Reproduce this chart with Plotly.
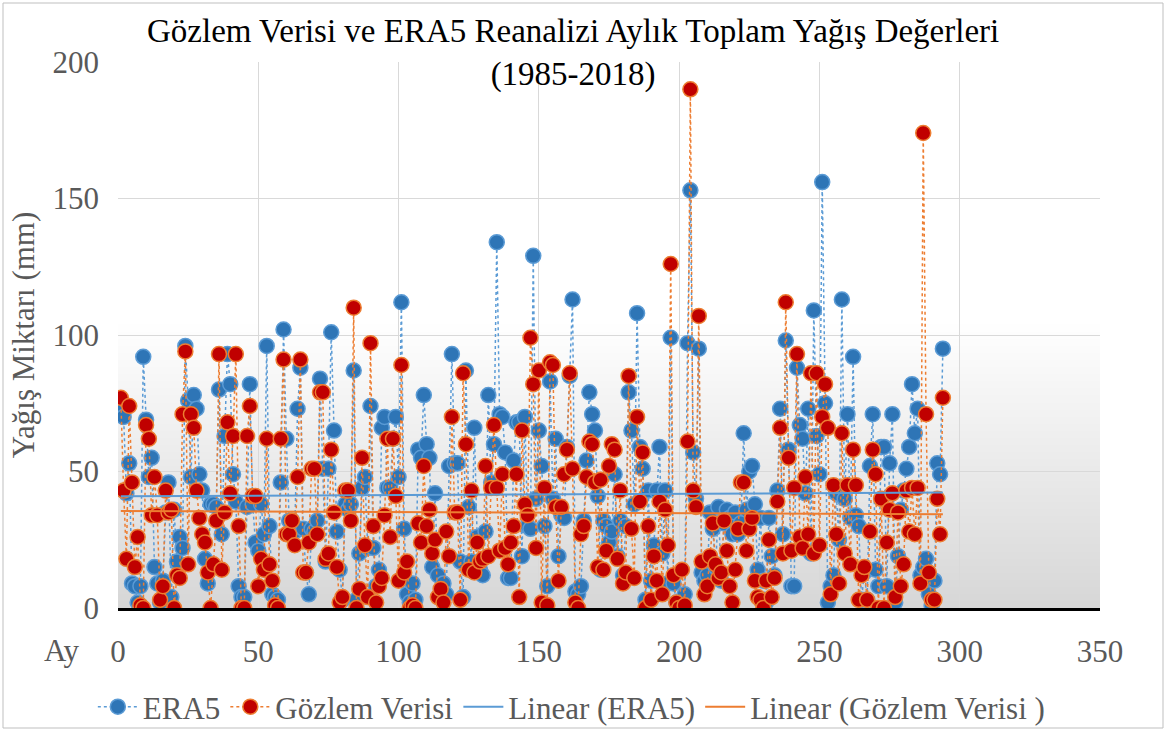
import numpy as np
import plotly.graph_objects as go

# ---------------- data ----------------
era5 = [
    73, 70, 42, 53, 9, 8, 2, 8, 92, 69, 48, 55, 15, 9, 2, 10, 35, 46, 4, 36, 17, 26, 22, 96,
    76, 48, 78, 73, 49, 43, 18, 9, 38, 38, 37, 80, 27, 63, 93, 82, 49, 39, 8, 4, 4, 37, 82, 38,
    24, 21, 38, 27, 96, 30, 5, 4, 3, 46, 102, 62, 32, 32, 28, 73, 88, 29, 13, 5, 29, 28, 32, 84,
    51, 17, 51, 101, 65, 28, 14, 3, 38, 36, 38, 87, 3, 20, 44, 48, 22, 74, 22, 8, 14, 66, 70, 44,
    44, 62, 70, 48, 112, 29, 5, 2, 9, 3, 58, 55, 78, 60, 55, 15, 42, 12, 4, 9, 5, 52, 93, 53,
    53, 17, 4, 87, 37, 17, 66, 26, 14, 12, 28, 78, 46, 60, 134, 71, 70, 57, 11, 11, 54, 68, 68, 19, 70, 30, 29, 129,
    40, 65, 52, 30, 8, 83, 40, 62, 19, 34, 33, 59, 85, 113, 6, 5, 8, 32, 54, 79, 71, 65, 41, 14,
    32, 30, 24, 28, 49, 19, 32, 12, 30, 79, 65, 38, 108, 59, 51, 3, 43, 10, 23, 43, 59, 20, 43, 9,
    99, 9, 2, 1, 3, 5, 97, 153, 57, 40, 95, 13, 10, 12, 35, 29, 15, 37, 10, 31, 36, 33, 27, 35,
    27, 31, 64, 36, 50, 52, 38, 14, 33, 10, 2, 33, 19, 12, 43, 73, 27, 98, 58, 8, 8, 88, 67, 62, 42, 73, 20, 109,
    63, 49, 156, 75, 2, 8, 12, 42, 25, 113, 40, 71, 33, 92, 34, 30, 3, 13, 3, 52, 71, 14, 8, 59,
    59, 8, 53, 71, 2, 19, 36, 43, 51, 59, 82, 64, 73, 12, 15, 18, 5, 1, 10, 53, 49, 95,
]
gozlem = [
    77, 43, 18, 74, 46, 15, 26, 1, 0, 67, 62, 34, 48, 34, 3, 8, 43, 35, 36, 0, 12, 11, 71, 94,
    16, 71, 66, 43, 33, 27, 24, 13, 0, 16, 32, 93, 14, 35, 68, 42, 63, 93, 30, 0, 0, 63, 74, 41,
    41, 8, 18, 14, 62, 16, 10, 1, 0, 62, 91, 27, 27, 32, 23, 48, 91, 13, 13, 24, 51, 51, 27, 79,
    79, 18, 20, 58, 35, 15, 2, 4, 43, 43, 32, 110, 0, 7, 55, 23, 4, 97, 30, 2, 8, 11, 34, 62,
    26, 62, 41, 10, 89, 13, 17, 0, 1, 0, 31, 24, 52, 30, 36, 20, 25, 4, 7, 2, 28, 19, 70, 35,
    35, 3, 86, 60, 14, 43, 13, 24, 17, 18, 52, 19, 44, 67, 44, 21, 49, 22, 16, 24, 30, 49, 4, 65, 38, 34, 99, 82,
    22, 87, 2, 44, 1, 90, 89, 37, 10, 37, 49, 58, 86, 51, 2, 0, 27, 30, 48, 61, 60, 46, 15, 47,
    14, 21, 52, 60, 58, 18, 43, 9, 13, 85, 29, 11, 70, 39, 57, 0, 30, 3, 19, 10, 39, 5, 36, 23,
    126, 12, 2, 0, 14, 1, 61, 190, 43, 37, 107, 17, 5, 8, 19, 31, 16, 11, 13, 32, 21, 8, 2, 14,
    29, 46, 46, 21, 29, 33, 10, 4, 3, 0, 10, 25, 4, 11, 39, 66, 20, 112, 55, 21, 44, 93, 26, 22, 48, 27, 86, 20,
    86, 23, 70, 82, 66, 5, 45, 27, 9, 64, 20, 45, 16, 58, 45, 3, 12, 15, 3, 28, 58, 49, 0, 40,
    0, 24, 36, 42, 4, 35, 8, 16, 43, 28, 44, 27, 44, 9, 174, 71, 13, 3, 3, 40, 27, 77,
]
months = list(range(1, len(era5) + 1))
x_ticks = [0, 50, 100, 150, 200, 250, 300, 350]
y_ticks = [0, 50, 100, 150, 200]

# linear trendlines (least squares, like Excel "Linear" trendline)
xa = np.array(months, dtype=float)
pe = np.polyfit(xa, np.array(era5, dtype=float), 1)
pg = np.polyfit(xa, np.array(gozlem, dtype=float), 1)
trend_x = [months[0], months[-1]]
trend_era5 = [pe[0] * t + pe[1] for t in trend_x]
trend_goz = [pg[0] * t + pg[1] for t in trend_x]

SERIF = "Liberation Serif, Times New Roman, serif"
GRAY = "#595959"
FS = 31

fig = go.Figure()
fig.add_trace(go.Scatter(
    x=months, y=era5, name="ERA5", mode="lines+markers",
    line=dict(color="#5B9BD5", width=1.5, dash="dot"),
    marker=dict(size=15, color="#2E75B6", line=dict(color="#5B9BD5", width=1.5)),
))
fig.add_trace(go.Scatter(
    x=months, y=gozlem, name="Gözlem Verisi", mode="lines+markers",
    line=dict(color="#ED7D31", width=1.5, dash="dot"),
    marker=dict(size=15, color="#C00000", line=dict(color="#ED7D31", width=1.5)),
))
fig.add_trace(go.Scatter(
    x=trend_x, y=trend_era5, name="Linear (ERA5)", mode="lines",
    line=dict(color="#5B9BD5", width=2),
))
fig.add_trace(go.Scatter(
    x=trend_x, y=trend_goz, name="Linear (Gözlem Verisi )", mode="lines",
    line=dict(color="#ED7D31", width=2),
))

# soft gradient in lower plot area
shapes = []
for k in range(1, 41):
    shapes.append(dict(type="rect", xref="x", yref="y", x0=0, x1=350, y0=0, y1=2.6 * k,
                       fillcolor="rgba(0,0,0,0.0022)", line=dict(width=0), layer="below"))
# outer chart border (plot area: x 118..1100, y 62..608)
shapes.append(dict(type="rect", xref="paper", yref="paper",
                   x0=(3 - 118) / 982, x1=(1163 - 118) / 982,
                   y0=(608 - 728) / 546, y1=(608 - 3) / 546,
                   line=dict(color="#BFBFBF", width=1), fillcolor="rgba(0,0,0,0)", layer="above"))

fig.update_layout(
    width=1167, height=731,
    margin=dict(l=118, r=67, t=62, b=123, autoexpand=False),
    paper_bgcolor="white", plot_bgcolor="white",
    font=dict(family=SERIF, color=GRAY, size=FS),
    xaxis=dict(
        range=[0, 350], tickvals=x_ticks, showgrid=True, gridcolor="#D9D9D9", gridwidth=1,
        showline=True, linecolor="black", linewidth=3, zeroline=False, automargin=False,
        tickfont=dict(family=SERIF, size=FS, color=GRAY), ticklabelstandoff=14,
    ),
    yaxis=dict(
        range=[0, 200], tickvals=y_ticks, showgrid=True, gridcolor="#D9D9D9", gridwidth=1,
        zeroline=False, showline=False, automargin=False,
        tickfont=dict(family=SERIF, size=FS, color=GRAY), ticklabelstandoff=18,
        title=dict(text="Yağış Miktarı (mm)", font=dict(family=SERIF, size=FS, color=GRAY), standoff=8),
    ),
    legend=dict(
        orientation="h", xref="container", yref="container",
        x=0.49, xanchor="center", y=1 - 680 / 731, yanchor="top",
        font=dict(family=SERIF, size=FS, color=GRAY), itemwidth=40,
        bgcolor="rgba(0,0,0,0)",
    ),
    shapes=shapes,
    annotations=[
        dict(text="Gözlem Verisi ve ERA5 Reanalizi Aylık Toplam Yağış Değerleri<br>(1985-2018)",
             xref="paper", yref="paper", x=(573 - 118) / 982, y=(608 - 11) / 546,
             xanchor="center", yanchor="top", showarrow=False,
             font=dict(family=SERIF, size=33, color="black")),
        dict(text="Ay", xref="paper", yref="paper", x=(62 - 118) / 982, y=(608 - 650) / 546,
             xanchor="center", yanchor="middle", showarrow=False,
             font=dict(family=SERIF, size=FS, color=GRAY)),
    ],
)

fig.write_html("out.html", post_script="document.body.style.margin='0px';",
               config={"displayModeBar": False})
